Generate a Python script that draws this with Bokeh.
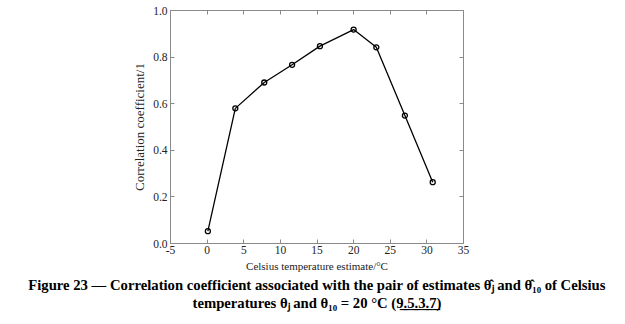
from bokeh.plotting import figure
from bokeh.models import LinearAxis, Range1d, Title, FixedTicker, NumeralTickFormatter
from bokeh.embed import file_html
from bokeh.resources import INLINE

temperature = [0.1, 3.85, 7.8, 11.6, 15.4, 20.0, 23.1, 27.0, 30.8]
correlation = [0.053, 0.580, 0.691, 0.767, 0.847, 0.918, 0.842, 0.549, 0.263]
x_ticks = [-5, 0, 5, 10, 15, 20, 25, 30, 35]
y_ticks = [0.0, 0.2, 0.4, 0.6, 0.8, 1.0]

SERIF = "Liberation Serif"
GRAY = "#8a8a8a"

p = figure(width=625, height=324, output_backend="svg", toolbar_location=None,
           x_range=Range1d(-5, 35), y_range=Range1d(0, 1),
           min_border_left=170, min_border_right=162, min_border_top=10, min_border_bottom=81,
           x_axis_label="Celsius temperature estimate/°C", y_axis_label="Correlation coefficient/1")
p.outline_line_color = None
p.xgrid.visible = False
p.ygrid.visible = False
p.background_fill_color = "white"
p.border_fill_color = "white"

def style(ax):
    ax.axis_line_color = GRAY
    ax.major_tick_line_color = GRAY
    ax.major_tick_in = 4
    ax.major_tick_out = 0
    ax.minor_tick_line_color = None
    ax.major_label_text_font = SERIF
    ax.major_label_text_font_size = "11.5px"
    ax.major_label_text_color = "#222222"
    ax.axis_label_text_font = SERIF
    ax.axis_label_text_font_size = "11px"
    ax.axis_label_text_font_style = "normal"
    ax.axis_label_text_color = "#222222"

p.xaxis.ticker = FixedTicker(ticks=x_ticks)
p.yaxis.ticker = FixedTicker(ticks=y_ticks)
p.yaxis.formatter = NumeralTickFormatter(format="0.0")
p.xaxis.major_label_overrides = {-5: "-5"}
style(p.xaxis[0])
style(p.yaxis[0])
p.yaxis.axis_label_text_font_size = "13px"
p.xaxis.major_label_standoff = 2
p.yaxis.major_label_standoff = 3
p.xaxis.axis_label_standoff = 3
p.yaxis.axis_label_standoff = 3

top = LinearAxis(ticker=FixedTicker(ticks=x_ticks),
                 major_label_overrides={t: "" for t in x_ticks})
right = LinearAxis(ticker=FixedTicker(ticks=y_ticks),
                   major_label_overrides={t: "" for t in y_ticks})
style(top)
style(right)
top.major_label_standoff = 0
right.major_label_standoff = 0
p.add_layout(top, "above")
p.add_layout(right, "right")

p.line(temperature, correlation, line_color="black", line_width=1.3)
p.scatter(temperature, correlation, size=5, marker="circle", fill_color=None,
          line_color="black", line_width=1.3)

cap1 = "Figure 23 — Correlation coefficient associated with the pair of estimates θ\u0302\u2c7c and θ\u0302\u2081\u2080 of Celsius"
cap2 = "temperatures θ\u2c7c and θ\u2081\u2080 = 20 °C (9\u0332.\u03325\u0332.\u03323\u0332.\u03327\u0332)"
for txt in [cap1, cap2]:
    p.add_layout(Title(text=txt, align="center", text_font=SERIF, text_font_size="14.7px",
                       text_font_style="bold", text_color="black", standoff=0,
                       offset=-7), "below")

open("out.html", "w").write(file_html(p, INLINE))
